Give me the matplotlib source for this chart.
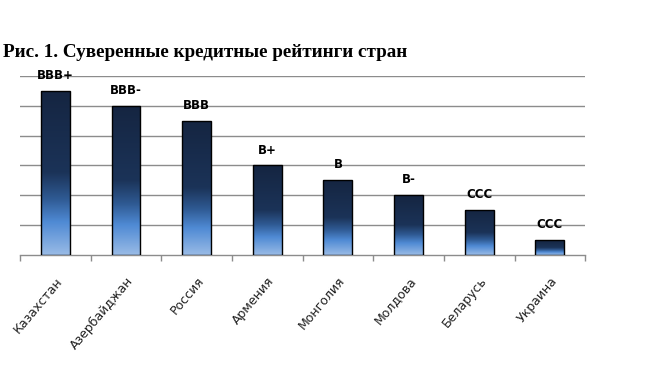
import numpy as np
import matplotlib
matplotlib.use("Agg")
import matplotlib.pyplot as plt
from matplotlib.colors import LinearSegmentedColormap

countries = ["Казахстан", "Азербайджан", "Россия", "Армения", "Монголия", "Молдова", "Беларусь", "Украина"]
scores = [5.5, 5.0, 4.5, 3.0, 2.5, 2.0, 1.5, 0.5]
ratings = ["BBB+", "BBB-", "BBB", "B+", "B", "B-", "CCC", "CCC"]
title = "Рис. 1. Суверенные кредитные рейтинги стран"

fig = plt.figure(figsize=(6.68, 3.69), dpi=100)
fig.patch.set_facecolor("white")
ax = fig.add_axes([0.030, 0.309, 0.846, 0.485])

x = np.arange(len(countries))
width = 0.41
bars = ax.bar(x, scores, width=width, facecolor="none", edgecolor="black", linewidth=1.0, zorder=4)

cmap = LinearSegmentedColormap.from_list(
    "grad",
    [(0.0, "#152541"), (0.5, "#1b3358"), (0.66, "#2f5a93"), (0.8, "#4f8ad4"), (1.0, "#99bbe6")],
)
grad = np.linspace(0, 1, 256).reshape(-1, 1)
for b in bars:
    x0, y0 = b.get_x(), b.get_y()
    w, h = b.get_width(), b.get_height()
    im = ax.imshow(grad, cmap=cmap, aspect="auto", extent=[x0, x0 + w, y0, y0 + h],
                   origin="upper", zorder=3, interpolation="bilinear")
    im.set_clip_path(b)

for xi, s, r in zip(x, scores, ratings):
    ax.text(xi, s + 0.3, r, ha="center", va="bottom", fontsize=8.5,
            fontweight="bold", color="black", family="DejaVu Sans", zorder=5)

ax.set_xlim(-0.5, len(countries) - 0.5)
ax.set_ylim(0, 6)
ax.set_yticks(np.arange(1, 7))
ax.yaxis.grid(True, color="#8c8c8c", linewidth=1.0, zorder=0)
ax.set_yticklabels([])
ax.tick_params(axis="y", length=0)
for sp in ["top", "right", "left"]:
    ax.spines[sp].set_visible(False)
ax.spines["bottom"].set_color("#8c8c8c")
ax.spines["bottom"].set_linewidth(1.0)

ax.set_xticks(x)
ax.set_xticklabels(countries, rotation=50, ha="right", rotation_mode="anchor",
                   fontsize=9, color="#222222", family="DejaVu Sans")
ax.tick_params(axis="x", which="major", length=0, pad=14)
ax.set_xticks(np.arange(-0.5, len(countries)), minor=True)
ax.tick_params(axis="x", which="minor", length=4, color="#8c8c8c", width=1.0)
ax.set_axisbelow(True)

fig.text(0.005, 0.845, title, fontsize=13.8, fontweight="bold",
         family="Liberation Serif", ha="left", va="baseline", color="black")

fig.savefig("out.png", dpi=100, facecolor="white")
